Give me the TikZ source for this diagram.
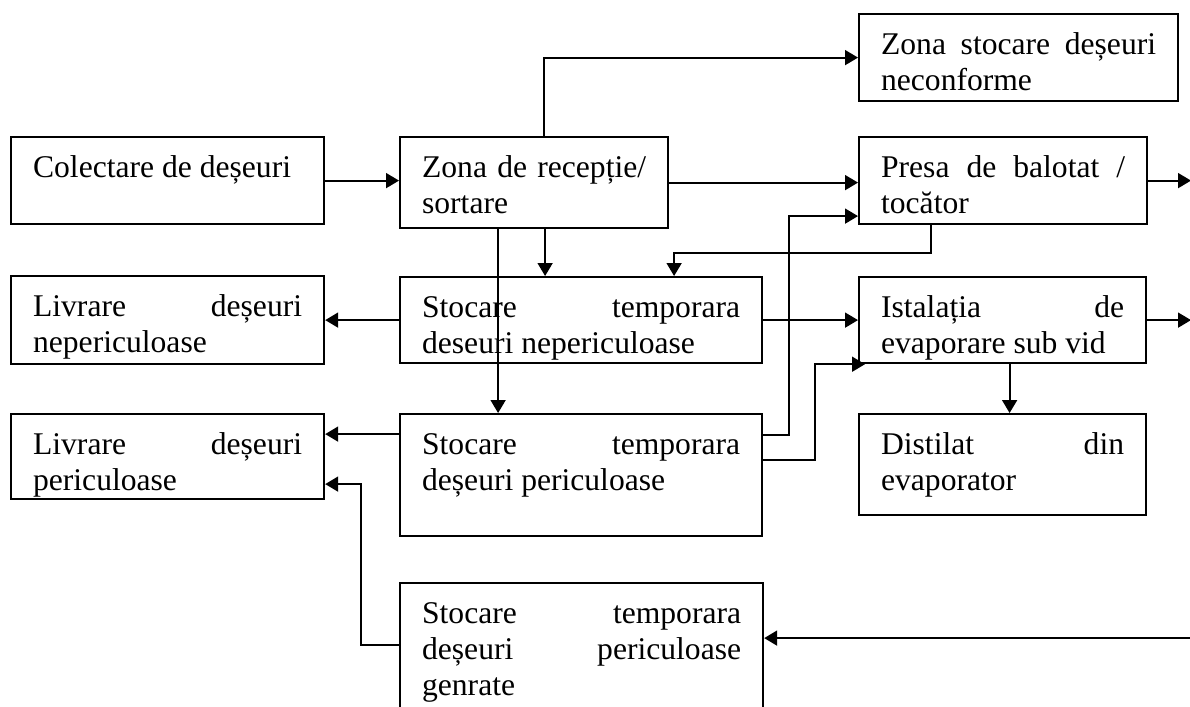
\documentclass[tikz,border=0pt]{standalone}
\usepackage{fontspec}
\setmainfont{Liberation Serif}
\usetikzlibrary{arrows.meta, calc}

\tikzset{
  blk/.style={draw, line width=1.1pt, anchor=north west, inner xsep=11pt, inner ysep=0pt,
              font=\fontsize{15.8pt}{18pt}\selectfont},
  arr/.style={-{Triangle[length=6.5pt,width=7.5pt]}, line width=0.9pt}
}
% text of a block: width, height, lines
\newcommand{\boxtxt}[3]{\parbox[b][#2][t]{#1}{\rule{0pt}{20pt}#3}}

\begin{document}
\begin{tikzpicture}[x=0.5pt, y=-0.5pt]
    \path[use as bounding box, clip] (0,0) rectangle (1190,707);
    \coordinate (rim) at (1191,0);
    % first row
    \node[blk, at={(10,136)}] (colectare) {\boxtxt{134.5pt}{43.5pt}{Colectare de deșeuri}};
    \node[blk, at={(399,136)}] (receptie) {\boxtxt{112pt}{45.5pt}{Zona\hfill de\hfill recepție/\\sortare}};
    \node[blk, at={(858,13)}] (neconf) {\boxtxt{137.5pt}{43.5pt}{Zona\hfill stocare\hfill deșeuri\\neconforme}};
    \node[blk, at={(858,136)}] (presa) {\boxtxt{122pt}{43.5pt}{Presa\hfill de\hfill balotat\hfill /\\tocător}};
    % second row
    \node[blk, at={(10,275)}] (livnep) {\boxtxt{134.5pt}{44pt}{Livrare\hfill deșeuri\\nepericuloase}};
    \node[blk, at={(399,276)}] (stocnep) {\boxtxt{159pt}{43pt}{Stocare\hfill temporara\\deseuri nepericuloase}};
    \node[blk, at={(858,276)}] (ist) {\boxtxt{121.5pt}{43pt}{Istalația\hfill de\\evaporare sub vid}};
    % third row
    \node[blk, at={(10,413)}] (livper) {\boxtxt{134.5pt}{42.5pt}{Livrare\hfill deșeuri\\periculoase}};
    \node[blk, at={(399,413)}] (stocper) {\boxtxt{159pt}{61pt}{Stocare\hfill temporara\\deșeuri periculoase}};
    \node[blk, at={(858,413)}] (distilat) {\boxtxt{121.5pt}{50.5pt}{Distilat\hfill din\\evaporator}};
    % last row
    \node[blk, at={(399,582)}] (generate) {\boxtxt{159.5pt}{80pt}{Stocare\hfill temporara\\deșeuri\hfill periculoase\\genrate}};

    % flows
    \draw[arr] (colectare.east) -- (colectare.east -| receptie.west);
    \draw[arr] ([xshift=5pt]receptie.north) |- (neconf.west);
    \draw[arr] (receptie.east) -- (receptie.east -| presa.west);
    \coordinate (r1) at ([xshift=5.5pt]receptie.south);
    \draw[arr] (r1) -- (r1 |- stocnep.north);
    \coordinate (r2) at ([xshift=-18pt]receptie.south);
    \draw[arr] (r2) -- (r2 |- stocper.north);
    \coordinate (p1) at ([xshift=-36pt]presa.south);
    \coordinate (n1) at ([xshift=46.5pt]stocnep.north);
    \draw[arr] (p1) -- ++(0,28) -| (n1);
    \draw[arr] (presa.east) -- (presa.east -| rim);
    \draw[arr] (stocnep.west) -- (stocnep.west -| livnep.east);
    \draw[arr] (stocnep.east) -- (stocnep.east -| ist.west);
    \draw[arr] (ist.east) -- (ist.east -| rim);
    \coordinate (i1) at ([xshift=3.5pt]ist.south);
    \draw[arr] (i1) -- (i1 |- distilat.north);
    \coordinate (s1) at ([yshift=20.5pt]stocper.west);
    \draw[arr] (s1) -- (s1 -| livper.east);
    \coordinate (s2) at ([yshift=20pt]stocper.east);
    \coordinate (p2) at ([yshift=-17.75pt]presa.west);
    \draw[arr] (s2) -- ++(26,0) |- (p2);
    \coordinate (s3) at ([yshift=7.5pt]stocper.east);
    \coordinate (i2) at ([xshift=3.5pt]ist.south west);
    \draw[arr] (s3) -- ++(52,0) |- (i2);
    \coordinate (g1) at ([yshift=9pt]generate.west);
    \coordinate (l1) at ([yshift=-13.75pt]livper.east);
    \draw[arr] (g1) -- ++(-38,0) |- (l1);
    \coordinate (g2) at ([yshift=12.5pt]generate.east);
    \draw[arr] (g2 -| rim) -- (g2);
\end{tikzpicture}
\end{document}
